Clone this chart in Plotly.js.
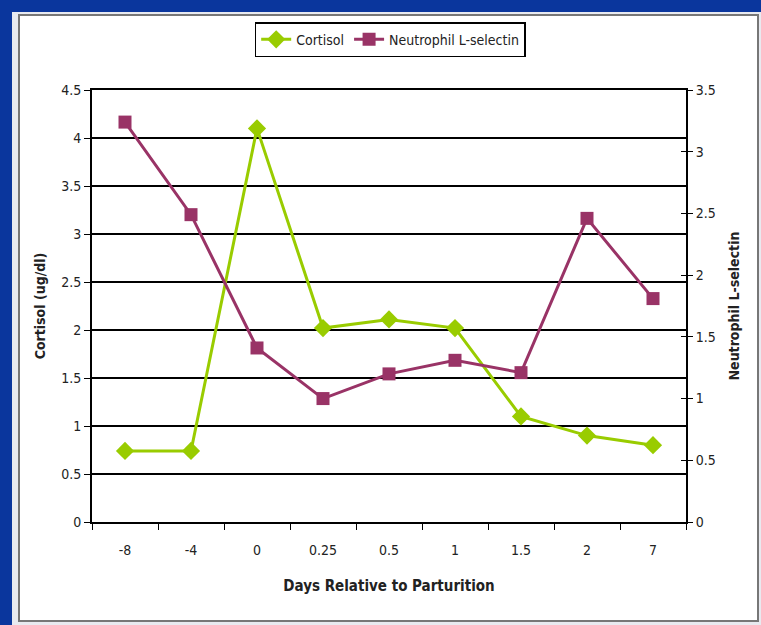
<!DOCTYPE html>
<html>
<head>
<meta charset="utf-8">
<script src="https://cdn.plot.ly/plotly-3.0.1.min.js"></script>
<style>html,body{margin:0;padding:0;background:#0a369d;}</style>
</head>
<body>
<div id="chart" style="width:761px;height:625px;"></div>
<script>
const days = ["-8", "-4", "0", "0.25", "0.5", "1", "1.5", "2", "7"];
const cortisol = [0.74, 0.74, 4.1, 2.02, 2.11, 2.02, 1.1, 0.9, 0.8];
const lselectin = [3.24, 2.49, 1.41, 1.0, 1.2, 1.31, 1.21, 2.46, 1.81];

const FONT = "'DejaVu Sans Condensed', 'Liberation Sans Narrow', 'Arial Narrow', 'Liberation Sans', Arial, sans-serif";

const traces = [
  {
    x: days, y: cortisol, name: "Cortisol", type: "scatter", mode: "lines+markers",
    line: {color: "#99cc00", width: 3},
    marker: {symbol: "diamond", size: 14, color: "#99cc00"},
    yaxis: "y"
  },
  {
    x: days, y: lselectin, name: "Neutrophil L-selectin", type: "scatter", mode: "lines+markers",
    line: {color: "#993366", width: 3},
    marker: {symbol: "square", size: 13, color: "#993366"},
    yaxis: "y2"
  },
  {
    x: [], y: [], type: "scatter", mode: "lines", yaxis: "y3", showlegend: false, hoverinfo: "skip"
  }
];

const layout = {
  width: 761, height: 625,
  margin: {l: 92, r: 75, t: 90, b: 103, pad: 0},
  paper_bgcolor: "#0a369d",
  plot_bgcolor: "rgba(0,0,0,0)",
  font: {family: FONT, size: 14, color: "#222"},
  showlegend: true,
  legend: {
    orientation: "h", x: 0.502, xanchor: "center", y: 1.157, yanchor: "top",
    bgcolor: "#ffffff", bordercolor: "#000", borderwidth: 1.5,
    font: {family: FONT, size: 14, color: "#222"},
    itemwidth: 30, tracegroupgap: 0
  },
  xaxis: {
    type: "category", range: [-0.5, 8.5], tickson: "boundaries", ticks: "outside", ticklen: 6, tickcolor: "#000",
    showline: true, linecolor: "#000", linewidth: 2, mirror: true,
    showgrid: false, zeroline: false, ticklabelstandoff: 14,
    tickfont: {family: FONT, size: 14, color: "#222"},
    title: {text: "<b>Days Relative to Parturition</b>", font: {family: FONT, size: 15, color: "#222"}, standoff: 24}
  },
  yaxis: {
    range: [0, 4.5], dtick: 0.5, tick0: 0, ticks: "outside", ticklen: 6, tickcolor: "#000",
    showline: true, linecolor: "#000", linewidth: 2,
    showgrid: true, gridcolor: "#000", gridwidth: 2.5, zeroline: false,
    tickfont: {family: FONT, size: 14, color: "#222"},
    title: {text: "<b>Cortisol (ug/dl)</b>", font: {family: FONT, size: 14, color: "#222"}, standoff: 12}
  },
  yaxis2: {
    range: [0, 3.5], dtick: 0.5, tick0: 0, overlaying: "y", side: "right", anchor: "x",
    ticks: "outside", ticklen: 5, tickcolor: "#000",
    showline: true, linecolor: "#000", linewidth: 2,
    showgrid: false, zeroline: false,
    tickfont: {family: FONT, size: 14, color: "#222"},
    title: {text: "<b>Neutrophil L-selectin</b>", font: {family: FONT, size: 14, color: "#222"}, standoff: 14}
  },
  yaxis3: {
    range: [0, 3.5], dtick: 0.5, tick0: 0, overlaying: "y", side: "right", anchor: "x",
    ticks: "inside", ticklen: 5, tickcolor: "#000", showticklabels: false,
    showline: false, showgrid: false, zeroline: false
  },
  shapes: [
    {type: "rect", xref: "paper", yref: "paper", layer: "below",
     x0: (12 - 92) / 594, x1: (761 - 92) / 594, y0: (522 - 625) / 432, y1: (522 - 12) / 432,
     fillcolor: "#e8eaf0", line: {width: 0}},
    {type: "rect", xref: "paper", yref: "paper", layer: "below",
     x0: (19 - 92) / 594, x1: (758 - 92) / 594, y0: (522 - 621) / 432, y1: (522 - 15) / 432,
     fillcolor: "#ffffff", line: {color: "#777", width: 2}}
  ]
};

Plotly.newPlot("chart", traces, layout, {displayModeBar: false, staticPlot: true});
</script>
</body>
</html>
